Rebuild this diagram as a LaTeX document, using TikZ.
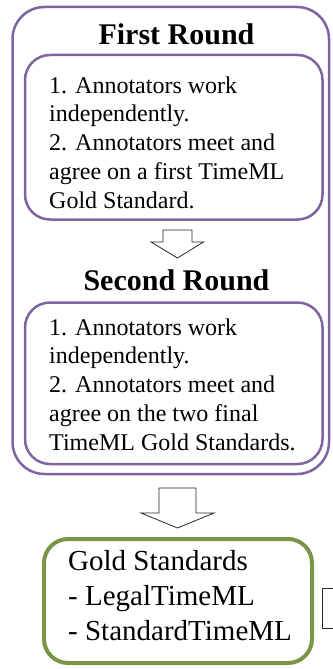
\documentclass[tikz,border=0pt]{standalone}
\usepackage{fontspec}
\setmainfont{Liberation Serif}
\definecolor{purp}{RGB}{128,100,162}
\definecolor{olivegreen}{RGB}{122,150,68}
\begin{document}
\begin{tikzpicture}[x=1pt,y=-1pt,
  outerbox/.style={draw=purp, line width=2.5pt, rounded corners=32pt, inner sep=0pt},
  innerbox/.style={draw=purp, line width=2.5pt, rounded corners=25pt, inner sep=0pt},
  goldbox/.style={draw=olivegreen, line width=4pt, rounded corners=24pt, inner sep=0pt},
  sidebox/.style={draw=black!85, line width=1pt, inner sep=0pt},
  titletext/.style={font=\fontsize{30}{34}\selectfont\bfseries, inner sep=0pt, anchor=base},
  bodytext/.style={font=\fontsize{24}{28.75}\selectfont, align=left, inner sep=0pt, anchor=base west},
  goldtext/.style={font=\fontsize{29}{35}\selectfont, align=left, inner sep=0pt, anchor=base west},
  blockarrow/.style={draw=black!85, line width=0.8pt, fill=white, line join=miter}
]
\useasboundingbox (0,0) rectangle (332,669);

% boxes
\node[outerbox, minimum width=316.5pt, minimum height=467pt] (outer) at (170.75,240.5) {};
\node[innerbox, minimum width=297.5pt, minimum height=164.5pt] (inner1) at (173.75,137.25) {};
\node[innerbox, minimum width=297.5pt, minimum height=161.5pt] (inner2) at (173.75,383.25) {};
\node[goldbox, minimum width=268pt, minimum height=124pt] (gold) at (178,601) {};
\node[sidebox, minimum width=22.5pt, minimum height=40pt] (side) at (333.75,608) {};

% texts (base anchor = baseline of the last line)
\node[titletext] (t1) at (176.5,45) {First Round};
\node[titletext] (t2) at (176.5,290) {Second Round};
\node[bodytext] (b1) at (49,208) {1. Annotators work\\independently.\\2. Annotators meet and\\agree on a first TimeML\\Gold Standard.};
\node[bodytext] (b2) at (49,450) {1. Annotators work\\independently.\\2. Annotators meet and\\agree on the two final\\TimeML Gold Standards.};
\node[goldtext] (g) at (68,640) {Gold Standards\\- LegalTimeML\\- StandardTimeML};

% block arrows
\coordinate (a1) at (177.5,230);
\draw[blockarrow] (a1) ++(-14.5,0) -- ++(0,12) -- ++(-12,0) -- (177.5,258) -- (203.5,242) -- ++(-11.5,0) -- ++(0,-12) -- cycle;
\coordinate (a2) at (177.5,488);
\draw[blockarrow] (a2) ++(-18.5,0) -- ++(0,25) -- ++(-18,0) -- (177.5,528) -- (214,513) -- ++(-18,0) -- ++(0,-25) -- cycle;
\end{tikzpicture}
\end{document}
